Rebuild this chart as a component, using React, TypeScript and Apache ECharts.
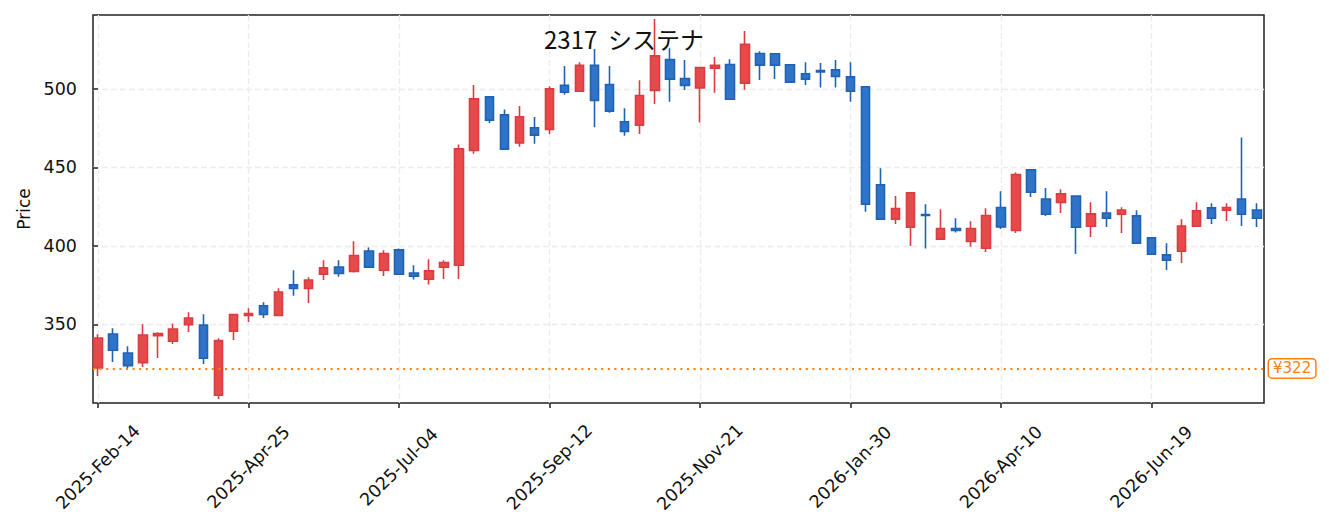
import React, { useEffect, useRef } from "react";
import * as echarts from "echarts";

const title = "2317  システナ";
const opens = [322.3,343.9,331.8,325.7,342.9,339.3,349.9,349.7,304.9,345.7,355.7,361.8,355.7,375.2,372.9,382.0,386.6,383.7,396.8,384.5,397.5,382.8,378.8,386.4,387.7,460.8,494.9,483.4,465.6,475.2,474.1,502.2,498.5,514.9,502.8,479.0,476.9,499.0,518.7,506.6,500.6,513.2,515.5,503.6,522.5,522.3,515.3,509.6,511.7,512.1,507.6,501.3,438.9,417.0,411.9,420.0,404.3,411.1,402.8,398.5,424.5,409.8,448.4,429.9,427.6,431.8,412.5,421.0,420.2,419.1,405.1,394.3,396.6,412.5,424.2,422.7,429.9,422.9];
const closes = [341.4,333.6,323.8,343.3,344.2,347.1,354.1,328.5,339.7,356.3,357.0,356.3,370.7,372.9,378.3,386.0,382.4,393.9,386.4,395.2,382.0,380.7,384.1,389.4,461.8,493.6,480.1,461.6,482.2,470.5,500.0,497.8,514.9,492.6,485.8,472.9,495.8,521.0,506.2,502.2,513.6,514.9,493.4,528.3,515.1,515.1,504.3,506.2,510.8,507.9,498.5,426.6,417.0,423.8,433.8,419.4,411.1,409.8,411.1,419.4,412.1,445.5,434.2,420.2,433.1,411.9,420.4,417.6,422.9,401.7,394.7,390.9,412.7,422.3,417.6,424.5,420.2,417.6];
const lows = [317.2,326.1,322.3,322.9,328.7,337.6,345.2,324.8,302.5,340.1,351.6,354.1,355.7,368.2,363.7,378.3,380.3,383.1,386.4,380.9,382.0,378.6,375.4,379.0,379.0,458.6,478.3,461.6,463.1,465.0,471.3,496.3,498.5,475.6,484.7,470.1,471.3,490.3,491.7,499.2,478.6,497.5,493.4,499.4,505.7,506.2,504.3,502.5,500.8,500.8,491.7,421.7,417.0,414.0,400.0,398.3,404.3,408.5,399.4,396.2,410.8,408.3,431.2,419.1,421.0,394.9,405.7,412.1,408.3,401.7,394.7,384.7,389.2,412.5,414.0,415.9,412.7,412.1];
const highs = [343.8,347.6,336.1,350.1,345.0,350.6,357.8,356.5,341.2,356.6,360.3,364.1,373.1,384.5,380.1,390.9,390.9,403.0,399.0,397.3,398.3,387.7,391.5,390.9,464.6,502.4,494.9,486.9,489.0,482.0,501.7,514.6,517.0,525.3,514.6,487.7,505.5,544.4,525.9,518.3,513.6,520.2,518.9,536.8,524.0,522.3,515.3,517.0,516.4,518.3,517.0,501.3,449.5,431.7,433.8,426.6,423.4,417.6,415.7,424.0,434.8,446.8,448.4,436.8,436.1,431.8,427.8,434.8,424.6,422.7,405.1,401.7,417.0,427.8,427.2,427.2,469.0,427.2];
const tickIndex = [0, 10, 20, 30, 40, 50, 60, 70];
const tickLabels = ["2025-Feb-14","2025-Apr-25","2025-Jul-04","2025-Sep-12","2025-Nov-21","2026-Jan-30","2026-Apr-10","2026-Jun-19"];
const yTicks = [350, 400, 450, 500];
const lastPrice = 322;

export default function App() {
  const ref = useRef<HTMLDivElement>(null);
  useEffect(() => {
    document.body.style.margin = "0";
    const chart = echarts.init(ref.current!, null, { renderer: "svg" });
    const rows = opens.map((o, i) => [i, o, closes[i], lows[i], highs[i]]);
    const grid = "#ececec";
    chart.setOption({
      animation: false,
      backgroundColor: "#ffffff",
      title: {
        text: title,
        left: 539,
        top: 21,
        z: 1,
        textStyle: { fontFamily: "Noto Sans CJK JP", fontSize: 24, fontWeight: "normal", color: "#111" },
      },
      grid: {
        left: 93, top: 15, right: 65, bottom: 129,
        show: true, borderColor: "#222", borderWidth: 1.5, backgroundColor: "transparent",
      },
      xAxis: {
        type: "value",
        min: -0.33,
        max: 77.48,
        axisLine: { show: false },
        axisTick: { show: true, length: 5, lineStyle: { color: "#222", width: 1.5 }, customValues: tickIndex },
        axisLabel: {
          customValues: tickIndex,
          rotate: 45,
          align: "center",
          verticalAlign: "middle",
          margin: 64,
          fontFamily: "DejaVu Sans",
          fontSize: 17.5,
          color: "#111",
          formatter: (v: number) => {
            const k = tickIndex.indexOf(Math.round(v));
            return k >= 0 ? tickLabels[k] : "";
          },
        },
        splitLine: { show: true, lineStyle: { color: grid, type: [6, 3], width: 1.3 } },
      },
      yAxis: {
        type: "value",
        min: 300,
        max: 547,
        name: "Price",
        nameLocation: "middle",
        nameGap: 58,
        nameTextStyle: { fontFamily: "DejaVu Sans", fontSize: 17, color: "#111" },
        axisLine: { show: false },
        axisTick: { show: true, length: 5, lineStyle: { color: "#222", width: 1.5 }, customValues: yTicks },
        axisLabel: {
          customValues: yTicks,
          margin: 16,
          fontFamily: "DejaVu Sans",
          fontSize: 17.5,
          color: "#111",
        },
        splitLine: { show: true, lineStyle: { color: grid, type: [6, 3], width: 1.3 } },
      },
      series: [
        {
          type: "candlestick",
          data: rows,
          encode: { x: 0, y: [1, 2, 3, 4] },
          barWidth: 9,
          itemStyle: {
            color: "#e84a4c",
            color0: "#2f74c8",
            borderColor: "#d93d40",
            borderColor0: "#2062b4",
            borderWidth: 1.6,
          },
          markLine: {
            symbol: "none",
            silent: true,
            data: [{ yAxis: lastPrice }],
            lineStyle: { color: "#ff7f0e", type: [2, 4.6], width: 2 },
            label: {
              show: true,
              position: "end",
              distance: 5,
              formatter: "¥" + lastPrice,
              color: "#ff7f0e",
              fontFamily: "DejaVu Sans",
              fontSize: 15,
              backgroundColor: "#fff",
              borderColor: "#ff7f0e",
              borderWidth: 1.5,
              borderRadius: 3,
              padding: [2, 4, 1, 4],
            },
          },
        },
      ],
    });
    return () => chart.dispose();
  }, []);
  return <div ref={ref} style={{ width: 1329, height: 532 }} />;
}
